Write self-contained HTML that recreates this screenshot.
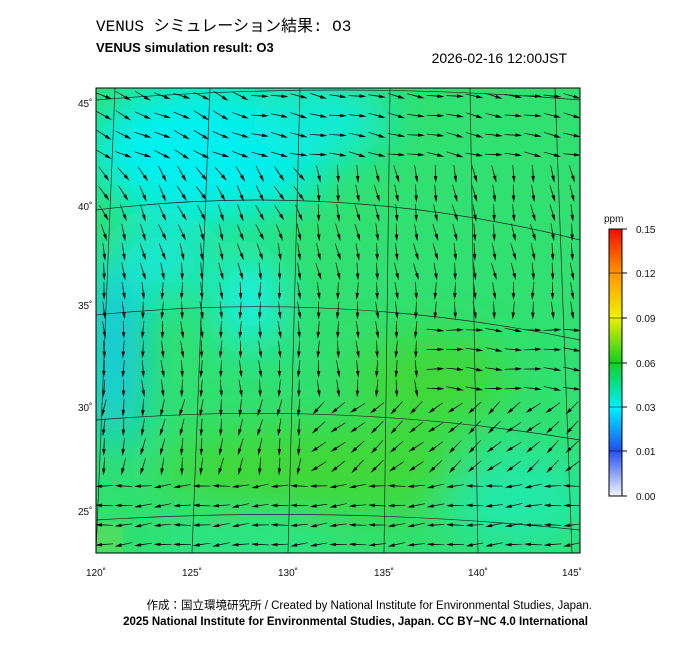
<!DOCTYPE html>
<html><head><meta charset="utf-8"><style>
body{margin:0;background:#fff;width:700px;height:649px;overflow:hidden;font-family:"Liberation Sans","Noto Sans CJK JP",sans-serif}
</style></head><body>
<svg id="s" width="700" height="649" xmlns="http://www.w3.org/2000/svg" font-family="Liberation Sans, Noto Sans CJK JP, sans-serif">
<defs>
<linearGradient id="cb" x1="0" y1="1" x2="0" y2="0">
<stop offset="0" stop-color="#f4f4ff"/><stop offset="0.17" stop-color="#2050f0"/><stop offset="0.33" stop-color="#00f0ff"/><stop offset="0.5" stop-color="#10d020"/><stop offset="0.67" stop-color="#f0f000"/><stop offset="0.83" stop-color="#ff9800"/><stop offset="1" stop-color="#f01000"/>
</linearGradient>
<filter id="bl"><feGaussianBlur stdDeviation="22"/></filter>
<clipPath id="cp"><rect x="96" y="88" width="484" height="465"/></clipPath>
</defs>
<text x="96" y="31" font-size="16" font-family="Liberation Mono, Noto Sans CJK JP, monospace">VENUS シミュレーション結果: O3</text>
<text x="96" y="52" font-size="13" font-weight="bold">VENUS simulation result: O3</text>
<text x="567" y="63" font-size="14" text-anchor="end">2026-02-16 12:00JST</text>
<g clip-path="url(#cp)">
<rect x="96" y="88" width="484" height="465" fill="#30e070"/>
<g filter="url(#bl)">
<ellipse cx="210" cy="150" rx="120" ry="70" fill="#00f0f0"/>
<ellipse cx="320" cy="120" rx="70" ry="40" fill="#10ecd8"/>
<ellipse cx="250" cy="300" rx="35" ry="50" fill="#18f0e0"/>
<ellipse cx="115" cy="350" rx="25" ry="100" fill="#10c8f0"/>
<ellipse cx="160" cy="260" rx="50" ry="40" fill="#18e8d0"/>
<ellipse cx="330" cy="470" rx="170" ry="45" fill="#40d838"/>
<ellipse cx="430" cy="380" rx="80" ry="45" fill="#40d838"/>
<ellipse cx="520" cy="500" rx="70" ry="50" fill="#24e8a8"/>
<ellipse cx="250" cy="540" rx="90" ry="20" fill="#28e890"/>
</g>
<ellipse cx="105" cy="540" rx="15" ry="15" fill="#c8d020" filter="url(#bl)"/>
<g stroke="#222" stroke-width="0.7" fill="none">
<path d="M96 100 Q340 80 580 100"/><path d="M96 210 Q340 180 580 240"/>
<path d="M96 315 Q340 290 580 340"/><path d="M96 420 Q340 400 580 440"/>
<path d="M96 520 Q340 505 580 530"/>
<line x1="115" y1="88" x2="96" y2="553"/><line x1="210" y1="88" x2="192" y2="553"/>
<line x1="300" y1="88" x2="288" y2="553"/><line x1="390" y1="88" x2="384" y2="553"/>
<line x1="470" y1="88" x2="478" y2="553"/><line x1="555" y1="88" x2="572" y2="553"/>
</g>
<g id="ar" fill="#111"></g>
</g>
<rect x="96" y="88" width="484" height="465" fill="none" stroke="#000" stroke-width="1"/>
<g font-size="10" fill="#111">
<text x="78" y="107">45˚</text><text x="78" y="210">40˚</text><text x="78" y="309">35˚</text><text x="78" y="411">30˚</text><text x="78" y="515">25˚</text>
<text x="96" y="576" text-anchor="middle">120˚</text><text x="192" y="576" text-anchor="middle">125˚</text><text x="288" y="576" text-anchor="middle">130˚</text><text x="384" y="576" text-anchor="middle">135˚</text><text x="478" y="576" text-anchor="middle">140˚</text><text x="572" y="576" text-anchor="middle">145˚</text>
</g>
<rect x="609" y="229" width="13" height="267" fill="url(#cb)" stroke="#000"/>
<g stroke="#000"><line x1="622" y1="229" x2="627" y2="229"/><line x1="622" y1="273" x2="627" y2="273"/><line x1="622" y1="318" x2="627" y2="318"/><line x1="622" y1="363" x2="627" y2="363"/><line x1="622" y1="407" x2="627" y2="407"/><line x1="622" y1="451" x2="627" y2="451"/><line x1="622" y1="496" x2="627" y2="496"/>
<line x1="609" y1="273" x2="622" y2="273" stroke-width="0.5"/><line x1="609" y1="318" x2="622" y2="318" stroke-width="0.5"/><line x1="609" y1="363" x2="622" y2="363" stroke-width="0.5"/><line x1="609" y1="407" x2="622" y2="407" stroke-width="0.5"/><line x1="609" y1="451" x2="622" y2="451" stroke-width="0.5"/></g>
<g font-size="10" fill="#111"><text x="604" y="222">ppm</text>
<text x="636" y="233">0.15</text><text x="636" y="277">0.12</text><text x="636" y="322">0.09</text><text x="636" y="367">0.06</text><text x="636" y="411">0.03</text><text x="636" y="455">0.01</text><text x="636" y="500">0.00</text></g>
<text x="592" y="609" font-size="11.5" text-anchor="end">作成：国立環境研究所 / Created by National Institute for Environmental Studies, Japan.</text>
<text x="588" y="625" font-size="11.5" font-weight="bold" text-anchor="end">2025 National Institute for Environmental Studies, Japan. CC BY−NC 4.0 International</text>
</svg>
<script>
var g=document.getElementById('ar'),h='';
for(var y=96;y<553;y+=19.5){for(var x=104;x<580;x+=19.5){
var a;
if(y<170)a=15+(x<250?10:-5);
else if(y<290)a=x<300?55+(y-170)/4:80;
else if(y<400)a=(x>430&&y>320)?5:88;
else if(y<470)a=x<300?100:140;
else a=175;
a+=Math.sin(x*0.07+y*0.05)*8;
var r=a*Math.PI/180,L=9,c=Math.cos(r),s=Math.sin(r);
var tx=x+c*L,ty=y+s*L,ex=x-c*L,ey=y-s*L,px=-s,py=c;
var bx=tx-c*7,by=ty-s*7;
h+='<polygon points="'+tx+','+ty+' '+(bx+px*1.8)+','+(by+py*1.8)+' '+(bx+px*0.5)+','+(by+py*0.5)+' '+(ex+px*0.3)+','+(ey+py*0.3)+' '+(ex-px*0.3)+','+(ey-py*0.3)+' '+(bx-px*0.5)+','+(by-py*0.5)+' '+(bx-px*1.8)+','+(by-py*1.8)+'"/>';
}}
g.innerHTML=h;
</script>
</body></html>
